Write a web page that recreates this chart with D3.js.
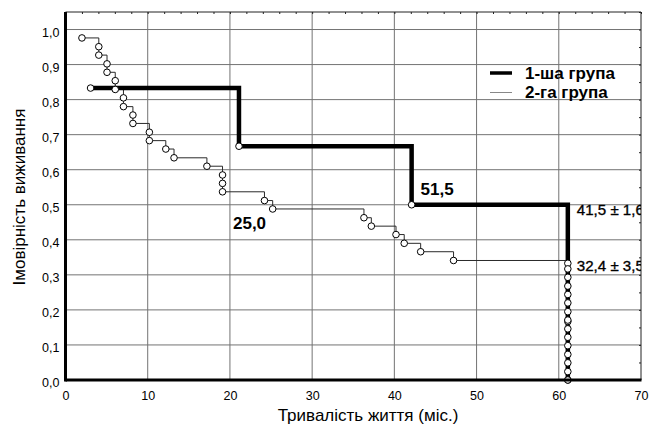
<!DOCTYPE html>
<html>
<head>
<meta charset="utf-8">
<script src="https://cdn.jsdelivr.net/npm/d3@7"></script>
<style>
  html, body { margin: 0; padding: 0; background: #fff; }
  svg { display: block; font-family: "Liberation Sans", Arial, sans-serif; }
</style>
</head>
<body>
<svg id="chart" width="649" height="425"></svg>
<script>
// Kaplan–Meier survival curves, two patient groups (time in months)
const group1Times = [3.05, 21.1, 42.1, 61.1, 61.1, 61.1];
const group1Surv  = [0.833, 0.667, 0.500, 0.333, 0.167, 0.000];

const group2Times = [2.0, 4.05, 4.05, 5.05, 5.05, 6.05, 6.05, 7.05, 7.05, 8.2, 8.2,
                     10.2, 10.2, 12.2, 13.2, 17.2, 19.1, 19.1, 19.1, 24.2, 25.2,
                     36.3, 37.2, 40.2, 41.2, 43.2, 47.2,
                     61.1, 61.1, 61.1, 61.1, 61.1, 61.1, 61.1, 61.1, 61.1, 61.1, 61.1, 61.1, 61.1, 61.1];
const group2Surv  = [0.976, 0.951, 0.927, 0.902, 0.878, 0.854, 0.829, 0.805, 0.780, 0.756, 0.732,
                     0.707, 0.683, 0.659, 0.634, 0.610, 0.585, 0.561, 0.537, 0.512, 0.488,
                     0.463, 0.439, 0.415, 0.390, 0.366, 0.341,
                     0.317, 0.293, 0.268, 0.244, 0.220, 0.195, 0.171, 0.146, 0.122, 0.098, 0.073, 0.049, 0.024, 0.000];

const seriesNames = ["1-ша група", "2-га група"];

const xTicks = [0, 10, 20, 30, 40, 50, 60, 70];
const yTicks = [0, 0.1, 0.2, 0.3, 0.4, 0.5, 0.6, 0.7, 0.8, 0.9, 1.0];

// Annotations: medians and mean ± SE
const medianLabels = [
  { x: 42.1, y: 0.5, text: "51,5" },
  { x: 21.1, y: 0.5, text: "25,0" }
];
const meanLabels = [
  { x: 61.1, y: 0.5, text: "41,5 ± 1,6" },
  { x: 61.1, y: 0.341, text: "32,4 ± 3,5" }
];

const svg = d3.select("#chart");
const margin = { left: 65.5, right: 8, top: 12, bottom: 45 };
const W = 649, H = 425;

const x = d3.scaleLinear().domain([0, 70]).range([margin.left, W - margin.right]);
const y = d3.scaleLinear().domain([0, 1.05]).range([H - margin.bottom, margin.top]);

const fmt = v => d3.format(".1f")(v).replace(".", ",");

svg.append("rect").attr("width", W).attr("height", H).attr("fill", "#fff");

svg.append("clipPath").attr("id", "plot-clip")
  .append("rect")
  .attr("x", x(0)).attr("y", y(1.05))
  .attr("width", x(70) - x(0)).attr("height", y(0) - y(1.05) + 6);

// Grid
const grid = svg.append("g").attr("stroke", "#737373").attr("stroke-width", 1);
grid.selectAll(".vg").data(xTicks.filter(d => d > 0 && d < 70)).join("line")
  .attr("x1", d => x(d)).attr("x2", d => x(d))
  .attr("y1", y(1.05)).attr("y2", y(0));
grid.selectAll(".hg").data(yTicks.filter(d => d > 0)).join("line")
  .attr("x1", x(0)).attr("x2", x(70))
  .attr("y1", d => y(d)).attr("y2", d => y(d));

// Top and right frame with small inner ticks
svg.append("line").attr("x1", x(0)).attr("x2", x(70)).attr("y1", y(1.05)).attr("y2", y(1.05))
  .attr("stroke", "#222").attr("stroke-width", 1);
svg.append("line").attr("x1", x(70)).attr("x2", x(70)).attr("y1", y(1.05)).attr("y2", y(0))
  .attr("stroke", "#222").attr("stroke-width", 1);
svg.append("g")
  .attr("transform", `translate(0,${y(1.05)})`)
  .call(d3.axisBottom(x).ticks(35).tickSize(2).tickFormat(""))
  .call(g => g.select(".domain").remove())
  .selectAll("line").attr("stroke", "#222");
svg.append("g")
  .attr("transform", `translate(${x(70)},0)`)
  .call(d3.axisLeft(y).ticks(21).tickSize(2).tickFormat(""))
  .call(g => g.select(".domain").remove())
  .selectAll("line").attr("stroke", "#222");

// Curves
const line = d3.line().x(d => x(d[0])).y(d => y(d[1])).curve(d3.curveStepAfter);
const g1 = group1Times.map((t, i) => [t, group1Surv[i]]);
const g2 = group2Times.map((t, i) => [t, group2Surv[i]]);

const plot = svg.append("g").attr("clip-path", "url(#plot-clip)");
plot.append("path").datum(g2).attr("d", line)
  .attr("fill", "none").attr("stroke", "#2a2a2a").attr("stroke-width", 1);
plot.append("path").datum(g1).attr("d", line)
  .attr("fill", "none").attr("stroke", "#000").attr("stroke-width", 4.5)
  .attr("stroke-linejoin", "miter");

// Observation markers
const marks = svg.append("g").attr("fill", "#fff").attr("stroke", "#000").attr("stroke-width", 1);
marks.selectAll(".m1").data(g1).join("circle")
  .attr("cx", d => x(d[0])).attr("cy", d => y(d[1])).attr("r", 3.3);
marks.selectAll(".m2").data(g2).join("circle")
  .attr("cx", d => x(d[0])).attr("cy", d => y(d[1])).attr("r", 3.3);

// Axes (thick left and bottom)
const xAxis = svg.append("g")
  .attr("transform", `translate(0,${y(0)})`)
  .call(d3.axisBottom(x).tickValues(xTicks).tickSize(0).tickPadding(11).tickFormat(d3.format("d")));
xAxis.select(".domain").remove();
xAxis.selectAll("text").attr("font-size", 12.5).attr("fill", "#000")
  .attr("font-family", "'Liberation Sans', Arial, sans-serif");

const yAxis = svg.append("g")
  .attr("transform", `translate(${x(0)},0)`)
  .call(d3.axisLeft(y).tickValues(yTicks).tickSize(0).tickPadding(6).tickFormat(fmt));
yAxis.select(".domain").remove();
yAxis.selectAll("text").attr("font-size", 12.5).attr("fill", "#000").attr("dy", "0.55em")
  .attr("font-family", "'Liberation Sans', Arial, sans-serif");

svg.append("line").attr("x1", x(0)).attr("x2", x(70) + 0.5).attr("y1", y(0)).attr("y2", y(0))
  .attr("stroke", "#000").attr("stroke-width", 3);
svg.append("line").attr("x1", x(0)).attr("x2", x(0)).attr("y1", y(1.05)).attr("y2", y(0) + 1.5)
  .attr("stroke", "#000").attr("stroke-width", 3);

// Labels
const ann = svg.append("g").attr("clip-path", "url(#plot-clip)");
ann.append("text").attr("x", x(medianLabels[0].x) + 9).attr("y", y(medianLabels[0].y) - 10)
  .attr("font-size", 17).attr("font-weight", "bold").text(medianLabels[0].text);
ann.append("text").attr("x", x(medianLabels[1].x) - 6).attr("y", y(medianLabels[1].y) + 24)
  .attr("font-size", 17).attr("font-weight", "bold").text(medianLabels[1].text);
ann.selectAll(".mean").data(meanLabels).join("text")
  .attr("x", d => x(d.x) + 9).attr("y", d => y(d.y) + 10.5)
  .attr("font-size", 15.5).attr("stroke", "#000").attr("stroke-width", 0.35)
  .attr("textLength", 67).attr("lengthAdjust", "spacingAndGlyphs")
  .text(d => d.text);

// Legend
const legend = svg.append("g").attr("transform", "translate(490,73)");
legend.append("line").attr("x1", 0).attr("x2", 22).attr("y1", 0).attr("y2", 0)
  .attr("stroke", "#000").attr("stroke-width", 3.5);
legend.append("line").attr("x1", 0).attr("x2", 22).attr("y1", 19.5).attr("y2", 19.5)
  .attr("stroke", "#888").attr("stroke-width", 1);
legend.selectAll("text").data(seriesNames).join("text")
  .attr("x", 35).attr("y", (d, i) => 5.5 + i * 19)
  .attr("font-size", 17).attr("font-weight", "bold").text(d => d);

// Axis titles
svg.append("text").attr("x", 368).attr("y", 420.5).attr("text-anchor", "middle")
  .attr("font-size", 17).text("Тривалість життя (міс.)");
svg.append("text").attr("transform", `translate(25,197) rotate(-90)`).attr("text-anchor", "middle")
  .attr("font-size", 17).text("Імовірність виживання");
</script>
</body>
</html>
